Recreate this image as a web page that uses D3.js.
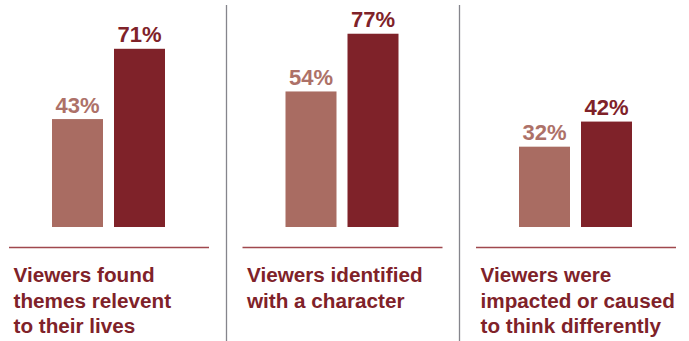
<!DOCTYPE html>
<html>
<head>
<meta charset="utf-8">
<script src="https://cdn.jsdelivr.net/npm/d3@7"></script>
<style>
  html, body { margin: 0; padding: 0; background: #fff; }
  svg { display: block; }
  text { font-family: "Liberation Sans", Arial, Helvetica, sans-serif; font-weight: bold; }
</style>
</head>
<body>
<svg id="chart" width="689" height="341"></svg>
<script>
const categories = ["themes", "character", "impacted"];
const categoryLabels = [
  ["Viewers found", "themes relevent", "to their lives"],
  ["Viewers identified", "with a character"],
  ["Viewers were", "impacted or caused", "to think differently"]
];
const series = ["Group A", "Group B"];
const valuesA = [43, 54, 32];
const valuesB = [71, 77, 42];

const W = 689, H = 341;
const svg = d3.select("#chart");
const colors = { "Group A": "#a96c62", "Group B": "#7f2229" };
const labelColors = { "Group A": "#ad7168", "Group B": "#7f2229" };
const textColor = "#7f2229";

const outer = d3.scaleBand().domain(categories).range([9, 9 + 3 * 233.5]).paddingInner(0).paddingOuter(0);
const inner = d3.scaleBand().domain(series).range([43, 156]).paddingInner(11 / 62).paddingOuter(0);
const baseline = 227;
const y = d3.scaleLinear().domain([0, 100]).range([baseline, baseline - 251]);

const data = categories.map((c, i) => ({
  cat: c,
  lines: categoryLabels[i],
  vals: [{ s: series[0], v: valuesA[i] }, { s: series[1], v: valuesB[i] }]
}));

// vertical dividers
categories.slice(1).forEach(c => {
  const x = Math.round(outer(c) - 17) + 0.5;
  svg.append("line")
    .attr("x1", x).attr("x2", x).attr("y1", 5).attr("y2", H)
    .attr("stroke", "#85858c").attr("stroke-width", 1.3);
});

const g = svg.selectAll("g.panel").data(data).join("g")
  .attr("class", "panel")
  .attr("transform", d => `translate(${outer(d.cat)},0)`);

g.selectAll("rect").data(d => d.vals).join("rect")
  .attr("x", d => inner(d.s))
  .attr("width", inner.bandwidth())
  .attr("y", d => y(d.v))
  .attr("height", d => baseline - y(d.v))
  .attr("fill", d => colors[d.s]);

g.selectAll("text.val").data(d => d.vals).join("text")
  .attr("class", "val")
  .attr("x", d => inner(d.s) + inner.bandwidth() / 2)
  .attr("y", d => y(d.v) - 6.5)
  .attr("text-anchor", "middle")
  .attr("font-size", 22)
  .attr("fill", d => labelColors[d.s])
  .text(d => d.v + "%");

g.append("line")
  .attr("x1", 0).attr("x2", 200)
  .attr("y1", 247.5).attr("y2", 247.5)
  .attr("stroke", "#a0484e").attr("stroke-width", 1.5);

g.each(function(d) {
  const t = d3.select(this).append("text")
    .attr("x", 4.5)
    .attr("font-size", 20.7)
    .attr("fill", textColor);
  d.lines.forEach((ln, i) => {
    t.append("tspan").attr("x", 4.5).attr("y", 282 + i * 25.5).text(ln);
  });
});
</script>
</body>
</html>
